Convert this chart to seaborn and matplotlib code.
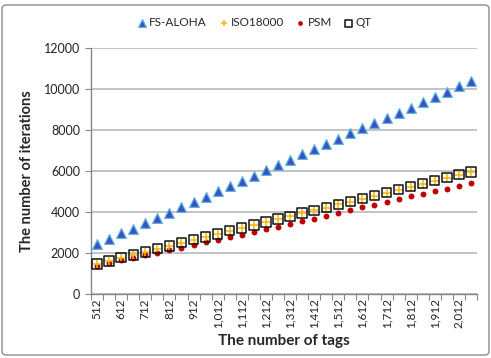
import numpy as np
import pandas as pd
import matplotlib
matplotlib.use("Agg")
import matplotlib.pyplot as plt
import seaborn as sns
from matplotlib.ticker import FuncFormatter, FixedLocator
from matplotlib.patches import FancyBboxPatch

tags = list(range(512, 2063, 50))
fs_aloha = [2440, 2680, 2975, 3190, 3450, 3720, 3950, 4260, 4490, 4750, 5010, 5250,
            5530, 5760, 6050, 6290, 6540, 6830, 7070, 7330, 7560, 7840, 8080, 8325,
            8585, 8845, 9075, 9350, 9610, 9870, 10130, 10375]
iso18000 = [1463, 1610, 1772, 1902, 2049, 2211, 2341, 2504, 2650, 2780, 2920, 3088,
            3220, 3366, 3512, 3659, 3789, 3951, 4082, 4211, 4370, 4502, 4648, 4795,
            4941, 5088, 5234, 5380, 5527, 5673, 5820, 5951]
psm = [1366, 1512, 1659, 1756, 1886, 2016, 2130, 2244, 2390, 2520, 2640, 2764,
       2893, 3040, 3171, 3285, 3430, 3561, 3674, 3805, 3960, 4120, 4229, 4357,
       4488, 4618, 4764, 4878, 5008, 5138, 5285, 5430]
qt = [1463, 1610, 1772, 1902, 2049, 2211, 2341, 2504, 2650, 2780, 2920, 3088,
      3220, 3366, 3512, 3659, 3789, 3951, 4082, 4211, 4370, 4502, 4648, 4795,
      4941, 5088, 5234, 5380, 5527, 5673, 5820, 5951]
y_ticks = [0, 2000, 4000, 6000, 8000, 10000, 12000]
x_label_ticks = list(range(512, 2013, 100))

sns.set_theme(style="white")
plt.rcParams['font.family'] = ['Lato', 'DejaVu Sans']

fig = plt.figure(figsize=(4.91, 3.58), dpi=100)
ax = fig.add_axes([91/491, 1-294/358, (477-91)/491, (294-48)/358])

sns.scatterplot(x=tags, y=fs_aloha, ax=ax, marker='^', s=50, color='#3D4FC4',
                edgecolor='#5BB8DA', linewidth=0.9, label='FS-ALOHA', zorder=3)
sns.scatterplot(x=tags, y=iso18000, ax=ax, marker='+', s=36, color='#F5B800',
                linewidth=1.1, label='ISO18000', zorder=4)
sns.scatterplot(x=tags, y=psm, ax=ax, marker='o', s=18, color='#C00000',
                edgecolor='#C00000', linewidth=0, label='PSM', zorder=3)
sns.scatterplot(x=tags, y=qt, ax=ax, marker='s', s=46, facecolor='none',
                edgecolor='#111111', linewidth=1.1, label='QT', zorder=5)

ax.set_xlim(487, 2087)
ax.set_ylim(0, 12000)
ax.set_yticks(y_ticks)
ax.yaxis.set_major_formatter(FuncFormatter(lambda v, p: f"{v:.0f}"))
ax.xaxis.set_major_locator(FixedLocator(x_label_ticks))
ax.xaxis.set_major_formatter(FuncFormatter(lambda v, p: f"{v:,.0f}"))
ax.xaxis.set_minor_locator(FixedLocator(list(range(487, 2088, 50))))
ax.tick_params(axis='x', which='major', length=0, labelrotation=90, labelsize=8.5,
               pad=3, labelcolor='#222222')
ax.tick_params(axis='x', which='minor', length=4, width=0.8, color='#868686', bottom=True)
ax.tick_params(axis='y', which='major', length=4, width=0.8, color='#868686', left=True,
               labelsize=9, labelcolor='#222222', pad=4)

ax.grid(axis='y', color='#BEBEBE', linewidth=1.3)
ax.set_axisbelow(True)
for s in ['top', 'right']:
    ax.spines[s].set_visible(False)
for s in ['left', 'bottom']:
    ax.spines[s].set_color('#868686')
    ax.spines[s].set_linewidth(1.0)

ax.set_xlabel('The number of tags', fontsize=11, fontweight='bold', labelpad=4)
ax.set_ylabel('The number of iterations', fontsize=10.5, fontweight='bold', labelpad=7)

ax.legend_.remove()
h, l = ax.get_legend_handles_labels()
fig.legend(h, l, loc='center', bbox_to_anchor=(254/491, 1-23/358), ncol=4,
           frameon=False, fontsize=8.5, handletextpad=0.1, columnspacing=0.9,
           handlelength=1.0, markerscale=0.8)

border = FancyBboxPatch((2/491, 3/358), 487/491, 350/358, transform=fig.transFigure,
                        boxstyle='round,pad=0,rounding_size=0.01', fill=False,
                        edgecolor='#8C8C8C', linewidth=1.0)
fig.patches.append(border)

fig.savefig('out.png', dpi=100)
